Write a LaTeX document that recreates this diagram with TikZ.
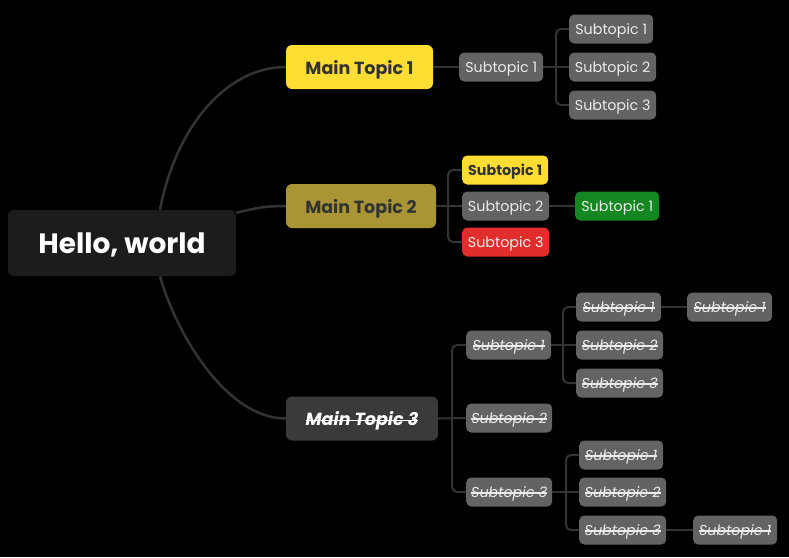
\documentclass[tikz,border=0pt]{standalone}
\usepackage{fontspec}
\setmainfont{Poppins}

\definecolor{rootgray}{HTML}{1C1C1E}
\definecolor{topicyellow}{HTML}{FFDD33}
\definecolor{topicolive}{HTML}{A99536}
\definecolor{topicgray}{HTML}{3A3A3C}
\definecolor{subgray}{HTML}{636365}
\definecolor{subred}{HTML}{E22D2D}
\definecolor{subgreen}{HTML}{158722}
\definecolor{darktext}{HTML}{333333}
\definecolor{lighttext}{HTML}{EBEBEB}
\definecolor{linkgray}{HTML}{333333}

% italic struck-through text for the finished branch
\newcommand{\struck}[1]{{\setbox0\hbox{\itshape #1}\rlap{\rule[0.27em]{\wd0}{1.2pt}}\box0}}

\tikzset{
  root/.style={fill=rootgray, text=white, rounded corners=6pt, inner sep=0pt, text depth=0pt,
    minimum width=228pt, minimum height=66pt, font=\bfseries\fontsize{28}{32}\selectfont},
  topic/.style={rounded corners=6pt, inner sep=0pt, text depth=0pt, minimum height=44pt,
    font=\bfseries\fontsize{17.5}{20}\selectfont},
  sub/.style={fill=subgray, text=lighttext, rounded corners=5pt, inner sep=0pt, text depth=0pt,
    anchor=west, minimum height=29pt, font=\fontsize{14.3}{17}\selectfont},
  link/.style={draw=linkgray, line width=2pt},
  branch/.style={link, rounded corners=5pt},
}

\begin{document}
\begin{tikzpicture}[x=1pt, y=-1pt]

\fill[black] (0,0) rectangle (789,557);

% centre and main topics
\node[root] (root) at (122,243) {Hello, world};
\node[topic, fill=topicyellow, text=darktext, minimum width=147pt] (mt1) at (359.5,67) {Main Topic 1};
\node[topic, fill=topicolive, text=darktext, minimum width=150pt] (mt2) at (361,206) {Main Topic 2};
\node[topic, fill=topicgray, text=white, minimum width=152pt] (mt3) at (362,418.5) {\struck{Main Topic 3}};

\draw[link, line width=2.5pt] ([xshift=38pt]root.north) .. controls +(15,-80) and +(-61,0) .. (mt1.west);
\draw[link, line width=2.5pt] ([yshift=-3pt]root.north east) .. controls +(20,-5) and +(-20,0) .. (mt2.west);
\draw[link, line width=2.5pt] ([xshift=38pt]root.south) .. controls +(15,54) and +(-61,0) .. (mt3.west);

% first branch
\node[sub, minimum width=84pt] (a) at (459,67) {Subtopic 1};
\foreach \n/\y/\w in {1/29/84, 2/67/87, 3/105/87}
    \node[sub, minimum width=\w pt] (a\n) at (569,\y) {Subtopic \n};
\coordinate (ja) at (556,67);
\draw[link] (mt1.east) -- (a.west);
\draw[link] (a.east) -- (a2.west);
\foreach \n in {1,3}
    \draw[branch] (ja) |- (a\n.west);

% second branch
\node[sub, fill=topicyellow, text=darktext, font=\bfseries\fontsize{14.3}{17}\selectfont, minimum width=86pt] (b1) at (462,170) {Subtopic 1};
\node[sub, minimum width=87pt] (b2) at (462,206) {Subtopic 2};
\node[sub, fill=subred, minimum width=87pt] (b3) at (462,242) {Subtopic 3};
\node[sub, fill=subgreen, minimum width=84pt] (b21) at (575,206) {Subtopic 1};
\coordinate (jb) at (448,206);
\draw[link] (mt2.east) -- (b2.west);
\draw[link] (b2.east) -- (b21.west);
\foreach \n in {1,3}
    \draw[branch] (jb) |- (b\n.west);

% third branch, all done
\foreach \n/\y/\w in {1/345/85, 2/418/86, 3/492/86}
    \node[sub, minimum width=\w pt] (c\n) at (466,\y) {\struck{Subtopic \n}};
\foreach \n/\y/\w in {1/307/85, 2/345/87, 3/383/87}
    \node[sub, minimum width=\w pt] (c1\n) at (576,\y) {\struck{Subtopic \n}};
\foreach \n/\y/\w in {1/455/84, 2/492/87, 3/530/87}
    \node[sub, minimum width=\w pt] (c3\n) at (579,\y) {\struck{Subtopic \n}};
\node[sub, minimum width=85pt] (c111) at (687,307) {\struck{Subtopic 1}};
\node[sub, minimum width=84pt] (c331) at (693,530) {\struck{Subtopic 1}};

\coordinate (jc) at (452,418.5);
\coordinate (jc1) at (563,345);
\coordinate (jc3) at (566,492);
\draw[link] (mt3.east) -- (c2.west);
\draw[link] (c1.east) -- (c12.west);
\draw[link] (c3.east) -- (c32.west);
\draw[link] (c11.east) -- (c111.west);
\draw[link] (c33.east) -- (c331.west);
\foreach \n in {1,3}{% outer children of each bracket
    \draw[branch] (jc) |- (c\n.west);
    \draw[branch] (jc1) |- (c1\n.west);
    \draw[branch] (jc3) |- (c3\n.west);}

\end{tikzpicture}
\end{document}
